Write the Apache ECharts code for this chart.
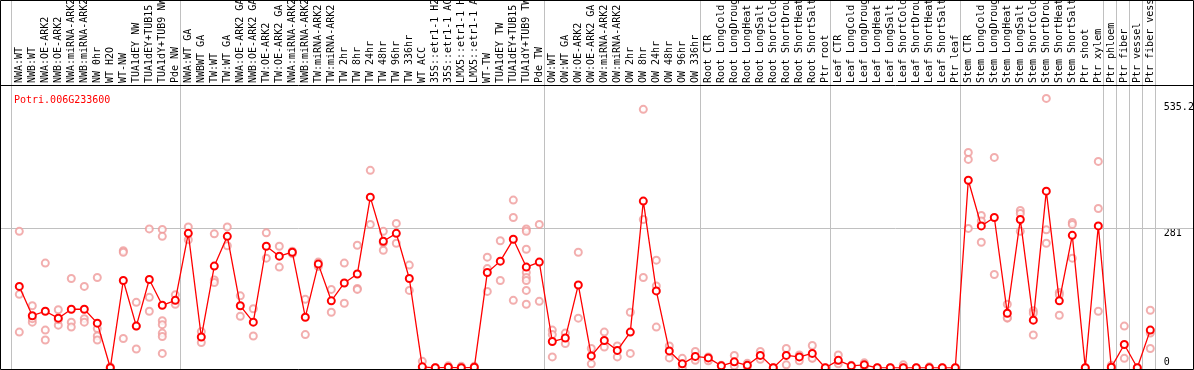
<!DOCTYPE html>
<html><head><meta charset="utf-8">
<script src="https://cdn.jsdelivr.net/npm/echarts@6/dist/echarts.min.js"></script>
<style>html,body{margin:0;padding:0;background:#fff}#c{width:1194px;height:370px}</style>
</head><body><div id="c"></div>
<script>
const geneTitle = 'Potri.006G233600';

const categories = [
  'NWA:WT','NWB:WT','NWA:OE-ARK2','NWB:OE-ARK2','NWA:miRNA-ARK2','NWB:miRNA-ARK2','NW 0hr','WT H2O','WT-NW','TUA1dEY NW','TUA1dEY+TUB15 NW','TUA1dY+TUB9 NW','Pde NW',
  'NWA:WT GA','NWBWT GA','TW:WT','TW:WT GA','NWA:OE-ARK2 GA','NWB:OE-ARK2 GA','TW:OE-ARK2','TW:OE-ARK2 GA','NWA:miRNA-ARK2 GA','NWB:miRNA-ARK2 GA','TW:miRNA-ARK2','TW:miRNA-ARK2 GA',
  'TW 2hr','TW 8hr','TW 24hr','TW 48hr','TW 96hr','TW 336hr','WT ACC','35S::etr1-1 H2O','35S::etr1-1 ACC','LMX5::etr1-1 H2O','LMX5::etr1-1 ACC','WT-TW','TUA1dEY TW','TUA1dEY+TUB15 TW','TUA1dY+TUB9 TW','Pde TW',
  'OW:WT','OW:WT GA','OW:OE-ARK2','OW:OE-ARK2 GA','OW:miRNA-ARK2','OW:miRNA-ARK2 GA','OW 2hr','OW 8hr','OW 24hr','OW 48hr','OW 96hr','OW 336hr',
  'Root CTR','Root LongCold','Root LongDrought','Root LongHeat','Root LongSalt','Root ShortCold','Root ShortDrought','Root ShortHeat','Root ShortSalt','Ptr root',
  'Leaf CTR','Leaf LongCold','Leaf LongDrought','Leaf LongHeat','Leaf LongSalt','Leaf ShortCold','Leaf ShortDrought','Leaf ShortHeat','Leaf ShortSalt','Ptr leaf',
  'Stem CTR','Stem LongCold','Stem LongDrought','Stem LongHeat','Stem LongSalt','Stem ShortCold','Stem ShortDrought','Stem ShortHeat','Stem ShortSalt','Ptr shoot','Ptr xylem',
  'Ptr phloem','Ptr fiber','Ptr vessel','Ptr fiber vessel'
];

const means = [
  164,105,114,100,118,118,90,0,176,84,178,126,136,
  271,62,205,265,125,92,245,225,233,102,209,135,171,189,344,255,271,180,2,0,1,0,1,192,215,259,203,213,
  53,60,167,24,55,35,72,336,155,34,8,23,
  20,4,12,5,25,0,25,22,29,0,
  15,4,6,0,0,0,0,0,0,0,
  378,286,303,110,299,96,356,135,267,0,286,
  1,47,0,76
];

const replicates = [
  [275,148,72],[125,92,99],[211,76,56],[117,86,97],[180,92,82],[164,99,92],[182,79,64,56],[0,2],[236,233,59],[132,38,84],[280,142,114],[279,265,95,87,70,63,29],[147,128],
  [284,258],[73,51],[270,177,172],[284,246],[145,104],[119,64],[272,221],[245,203],[230,235],[138,67],[213,204],[158,112],[211,130],[247,160,158],[398,289],[275,237,252],[291,251],[207,156],[13,0],[0,0],[4,0],[3,0],[3,0],[223,200,154],[256,176],[338,303,136],[280,275,239,192,182,176,156,128],[289,134],
  [76,67,22],[70,49],[233,100],[39,8],[72,42],[44,22],[112,29],[521,299,182],[217,165,82],[44,20],[19,0],[33,15],
  [22,14],[5,4],[25,4],[9,2],[33,17],[0,0],[39,6],[26,14],[45,20,19],[0],
  [26,8],[5,2],[10,2],[0],[0],[6,0],[0],[2,0],[0],[0],
  [434,420,281],[307,296,253],[424,188],[128,100,101],[317,311,275],[115,110,66],[543,278,251],[152,147,106],[293,289,221],[0],[416,321,114],
  [5,0],[84,19],[0],[116,70,39]
];

const yTickValues = [0, 281, 535.2];
const yMax = 570;
const refLineValue = 281;
const groupStarts = [0, 13, 41, 53, 63, 73, 84, 85, 86, 87];

const FONT = "'DejaVu Sans Mono', monospace";
const GRAY = '#c0c0c0';

const repPoints = [];
replicates.forEach((arr, i) => arr.forEach(v => repPoints.push([i, v])));

const chart = echarts.init(document.getElementById('c'), null, {renderer: 'canvas'});

const option = {
  animation: false,
  backgroundColor: '#ffffff',
  title: {
    text: geneTitle, left: 9, top: 90,
    textStyle: {color: '#ff0000', fontFamily: FONT, fontSize: 10, fontWeight: 'normal'}
  },
  grid: {left: 12.8, right: 37.2, top: 85, bottom: 2.2, outerBoundsMode: 'none', containLabel: false},
  xAxis: {
    type: 'category', position: 'top', data: categories, boundaryGap: true,
    axisLine: {show: false}, axisTick: {show: false}, splitLine: {show: false},
    axisLabel: {interval: 0, rotate: 90, margin: 2, fontFamily: FONT, fontSize: 10, color: '#000', hideOverlap: false}
  },
  yAxis: {
    type: 'value', position: 'right', min: 0, max: yMax,
    axisLine: {show: false}, axisTick: {show: false}, splitLine: {show: false},
    axisLabel: {
      customValues: yTickValues, margin: 7, fontFamily: FONT, fontSize: 10, color: '#000',
      verticalAlign: 'top', verticalAlignMinLabel: 'bottom',
      formatter: v => String(v)
    }
  },
  graphic: [
    {type: 'rect', z: 100, silent: true, shape: {x: 0.5, y: 0.5, width: 1193, height: 369},
     style: {fill: null, stroke: '#000', lineWidth: 1}},
    {type: 'line', z: 100, silent: true, shape: {x1: 0, y1: 85.5, x2: 1194, y2: 85.5},
     style: {stroke: '#000', lineWidth: 1}}
  ],
  series: [
    {
      type: 'custom', silent: true, z: 1,
      data: groupStarts.map(s => [s, 0]),
      renderItem: function (params, api) {
        const c = api.coord([api.value(0), 0]);
        const bw = api.size([1, 0])[0];
        const H = api.getHeight();
        const xs = [Math.round(c[0] - bw * 8 / 13) + 0.5];
        if (params.dataIndex === groupStarts.length - 1) xs.push(Math.round(c[0] + bw * 5 / 13) + 0.5);
        return {type: 'group', children: xs.map(x => ({
          type: 'line', shape: {x1: x, y1: 0, x2: x, y2: H},
          style: {stroke: GRAY, lineWidth: 1}
        }))};
      }
    },
    {
      type: 'custom', silent: true, z: 1,
      data: [[0, refLineValue]],
      renderItem: function (params, api) {
        const y = Math.round(api.coord([0, api.value(1)])[1]) + 0.5;
        return {type: 'line', shape: {x1: 0, y1: y, x2: api.getWidth(), y2: y},
          style: {stroke: GRAY, lineWidth: 1}};
      }
    },
    {
      type: 'scatter', name: 'replicates', data: repPoints, z: 2,
      symbol: 'emptyCircle', symbolSize: 7,
      itemStyle: {color: '#ef9a9a', borderColor: '#ef9a9a', borderWidth: 1.3}
    },
    {
      type: 'line', name: 'mean', data: means, z: 3,
      symbol: 'emptyCircle', symbolSize: 7, showAllSymbol: true,
      lineStyle: {color: '#ff0000', width: 1.3},
      itemStyle: {color: '#ff0000', borderColor: '#ff0000', borderWidth: 1.6}
    }
  ]
};
chart.setOption(option);
</script>
</body></html>
